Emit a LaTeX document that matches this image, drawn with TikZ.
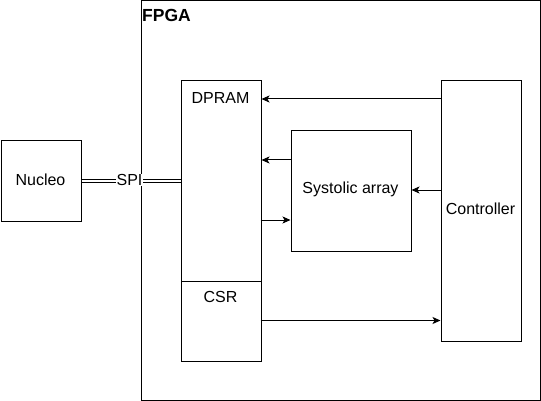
\documentclass[tikz,border=0pt]{standalone}
\usepackage{fontspec}
\setmainfont{Liberation Sans}
\usetikzlibrary{arrows.meta}
\begin{document}
\begin{tikzpicture}[x=1pt,y=-1pt,
  box/.style={draw=black,line width=1pt,inner sep=0pt,anchor=north west,fill=white},
  lbl/.style={font=\fontsize{16}{18}\selectfont,inner sep=0pt},
  arr/.style={line width=1pt,-{Stealth[length=8pt,width=7pt,inset=2pt]}}]
\useasboundingbox (0,0) rectangle (541,401);
\node[box,minimum width=399.5pt,minimum height=399.5pt] (fpga) at (140.5,0.5) {};
\node[anchor=west,inner sep=0pt,font=\fontsize{17.5}{20}\bfseries\selectfont] (fpgalbl) at (142,15) {FPGA};
\node[box,minimum width=80pt,minimum height=80pt] (nucleo) at (0.5,140.5) {};
\node[lbl] (nucleolbl) at (40.5,179.5) {Nucleo};
\node[box,minimum width=80pt,minimum height=280pt] (dpram) at (180.5,80.5) {};
\node[lbl] (dpramlbl) at (220.5,98) {DPRAM};
\node[box,minimum width=80pt,minimum height=80pt] (csr) at (180.5,280.5) {};
\node[lbl] (csrlbl) at (220.5,297) {CSR};
\node[box,minimum width=120pt,minimum height=120pt] (sys) at (290.5,130.5) {};
\node[lbl] (syslbl) at (350.5,189) {Systolic array};
\node[box,minimum width=80pt,minimum height=260pt] (ctrl) at (440.5,80.5) {};
\node[lbl] (ctrllbl) at (480.5,209) {Controller};
% SPI
\draw[line width=0.9pt,double=white,double distance=2.4pt] (nucleo.east) -- (nucleo.east -| dpram.west) coordinate (spiend);
\node[lbl,fill=white,inner sep=0.6pt] (spi) at (129.5,180) {SPI};
% arrows
\coordinate (c1) at (440.5,99);
\coordinate (c2) at (290.5,160);
\coordinate (c3) at (260.5,220);
\coordinate (c4) at (440.5,190);
\coordinate (c5) at (260.5,320.5);
\draw[arr] (c1) -- (c1 -| dpram.east);
\draw[arr] (c2) -- (c2 -| dpram.east);
\draw[arr] (c3) -- (c3 -| sys.west);
\draw[arr] (c4) -- (c4 -| sys.east);
\draw[arr] (c5) -- (c5 -| ctrl.west);
\end{tikzpicture}
\end{document}
